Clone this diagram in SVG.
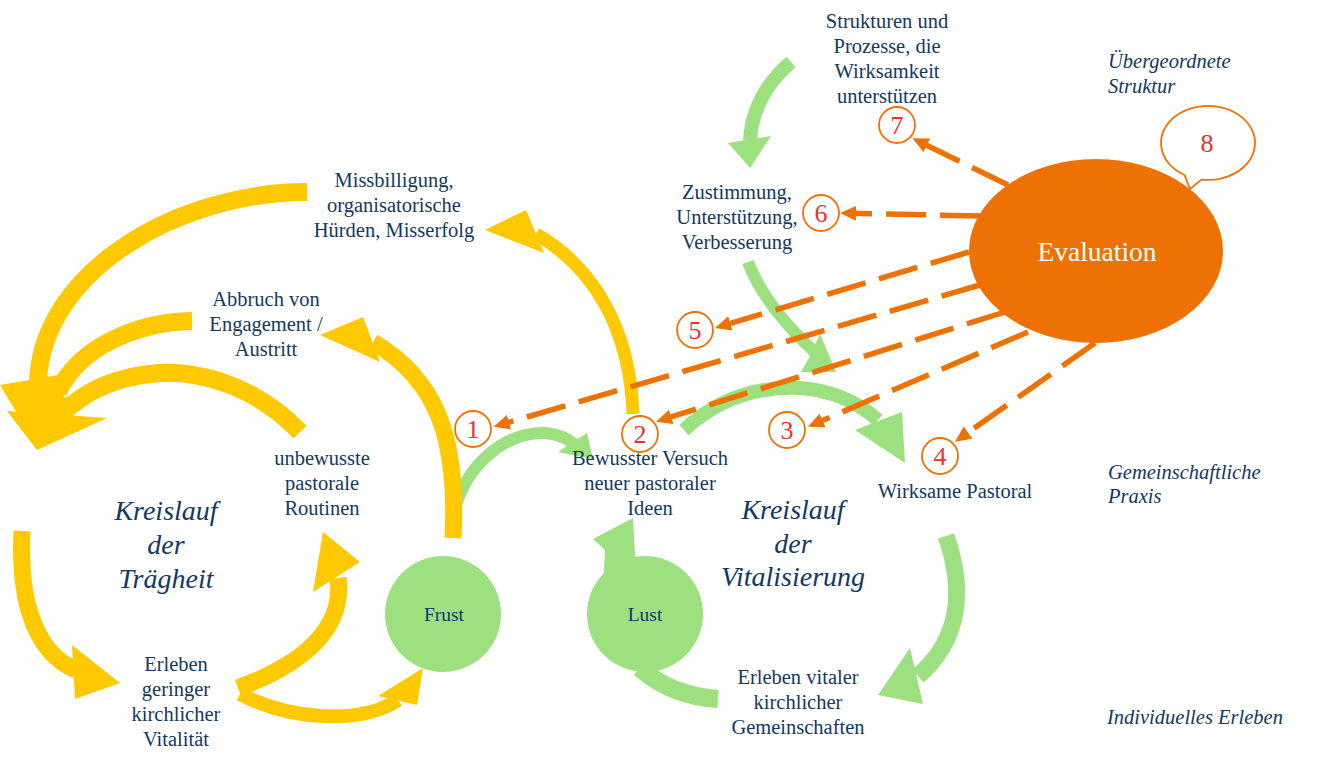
<svg xmlns="http://www.w3.org/2000/svg" width="1328" height="764" viewBox="0 0 1328 764">
<style>
.t{font-family:"Liberation Serif","Times New Roman",serif;font-size:20.5px;fill:#12395F;text-anchor:middle}
.ti{font-style:italic;text-anchor:start}
.k{font-size:28px;font-style:italic}
.num{font-family:"Liberation Serif","Times New Roman",serif;font-size:26px;fill:#E8322E;text-anchor:middle}
.ny{fill:none;stroke:#FFC900}
.ng{fill:none;stroke:#9DE07F}
.hy{fill:#FFC900}
.hg{fill:#9DE07F}
.dash{fill:none;stroke:#EE7203;stroke-width:5.5;stroke-dasharray:40 14;marker-end:url(#ah)}
.nc{fill:#fff;stroke:#EE7203;stroke-width:1.8}
</style>
<defs>
<marker id="ah" markerUnits="userSpaceOnUse" markerWidth="16" markerHeight="15" refX="6" refY="7.5" orient="auto">
<path d="M0,0 L16,7.5 L0,15 Z" fill="#EE7203"/>
</marker>
</defs>
<rect width="1328" height="764" fill="#fff"/>

<g id="connectors">
<!-- green arrows -->
<g id="g-strukturen-zustimmung">
<path class="ng" stroke-width="14" d="M791,62 C770,80 752,105 750,141"/>
<polygon class="hg" points="728,143 771,136 750,168"/>
</g>
<g id="g-zustimmung-wirksame">
<path class="ng" stroke-width="12" d="M748,262 C760,295 790,330 815,352"/>
<polygon class="hg" points="820,334 836,372 801,372 809,358"/>
</g>
<g id="g-bewusst-wirksame">
<path class="ng" stroke-width="14" d="M684,430 C720,397 760,386 800,388 C830,390 855,400 878,420"/>
<polygon class="hg" points="855,430 902,412 905,463"/>
</g>
<g id="g-wirksame-erleben">
<path class="ng" stroke-width="17" d="M946,536 C965,590 960,640 918,676"/>
<polygon class="hg" points="910,648 923,704 878,695"/>
</g>
<g id="g-erleben-lust-bewusst">
<path class="ng" stroke-width="18" d="M718,699 C690,697 662,688 640,668"/>
<polygon class="hg" points="593,539 633,518 637,590 603,590 605,550"/>
</g>
<g id="g-frust-bewusst">
<path class="ng" stroke-width="12" d="M452,522 C462,465 505,432 545,433 C560,434 570,440 578,447"/>
<polygon class="hg" points="558,452 587,433 593,459"/>
</g>

<!-- yellow arrows -->
<g id="y-miss-inert">
<path class="ny" stroke-width="18" d="M307,192 C180,192 42,270 38,382"/>
<polygon class="hy" points="0,385 76,372 38,448"/>
</g>
<g id="y-abbruch-inert">
<path class="ny" stroke-width="18" d="M192,321 C140,322 80,345 58,392"/>
<polygon class="hy" points="14,396 92,398 38,448"/>
</g>
<g id="y-routinen-inert">
<path class="ny" stroke-width="18" d="M300,432 C255,385 195,368 150,374 C115,378 90,390 72,405"/>
<polygon class="hy" points="7,411 107,418 37,450"/>
</g>
<g id="y-inert-erleben">
<path class="ny" stroke-width="17" d="M22,531 C18,610 40,655 76,670"/>
<polygon class="hy" points="72,645 120,683 75,699"/>
</g>
<g id="y-erleben-routinen">
<path class="ny" stroke-width="17" d="M238,688 C300,665 345,630 338,578"/>
<polygon class="hy" points="323,532 360,562 313,592"/>
</g>
<g id="y-erleben-frust">
<path class="ny" stroke-width="14" d="M240,694 C290,720 360,725 398,700"/>
<polygon class="hy" points="378,696 423,668 417,705"/>
</g>
<g id="y-frust-abbruch">
<path class="ny" stroke-width="17" d="M453,538 C458,440 438,380 373,342"/>
<polygon class="hy" points="320,335 363,317 380,362"/>
</g>
<g id="y-bewusst-miss">
<path class="ny" stroke-width="13" d="M633,414 C630,330 595,268 536,234"/>
<polygon class="hy" points="485,230 526,210 544,253"/>
</g>
</g>

<g id="node-frust">
<circle cx="443" cy="614" r="58" fill="#9DE07F"/>
<text class="t" x="444" y="621" style="font-size:19.5px">Frust</text>
</g>
<g id="node-lust">
<circle cx="645" cy="614" r="58" fill="#9DE07F"/>
<text class="t" x="645" y="621" style="font-size:19.5px">Lust</text>
</g>

<g id="node-strukturen">
<text class="t"><tspan x="887" y="28">Strukturen und</tspan><tspan x="887" y="53">Prozesse, die</tspan><tspan x="887" y="78">Wirksamkeit</tspan><tspan x="887" y="103">unterstützen</tspan></text>
</g>
<g id="label-uebergeordnet">
<text class="t ti"><tspan x="1108" y="68">Übergeordnete</tspan><tspan x="1108" y="93">Struktur</tspan></text>
</g>
<g id="node-missbilligung">
<text class="t"><tspan x="394" y="187">Missbilligung,</tspan><tspan x="394" y="212">organisatorische</tspan><tspan x="394" y="237">Hürden, Misserfolg</tspan></text>
</g>
<g id="node-zustimmung">
<text class="t"><tspan x="737" y="199">Zustimmung,</tspan><tspan x="737" y="224">Unterstützung,</tspan><tspan x="737" y="249">Verbesserung</tspan></text>
</g>
<g id="node-abbruch">
<text class="t"><tspan x="266" y="306">Abbruch von</tspan><tspan x="266" y="331">Engagement /</tspan><tspan x="266" y="356">Austritt</tspan></text>
</g>
<g id="node-routinen">
<text class="t"><tspan x="322" y="465">unbewusste</tspan><tspan x="322" y="490">pastorale</tspan><tspan x="322" y="515">Routinen</tspan></text>
</g>
<g id="node-bewusst">
<text class="t"><tspan x="650" y="465">Bewusster Versuch</tspan><tspan x="650" y="490">neuer pastoraler</tspan><tspan x="650" y="515">Ideen</tspan></text>
</g>
<g id="node-wirksam">
<text class="t" x="955" y="498">Wirksame Pastoral</text>
</g>
<g id="label-gemeinschaft">
<text class="t ti"><tspan x="1108" y="479">Gemeinschaftliche</tspan><tspan x="1108" y="503">Praxis</tspan></text>
</g>
<g id="label-traegheit">
<text class="t k"><tspan x="166" y="520">Kreislauf</tspan><tspan x="166" y="554">der</tspan><tspan x="166" y="588">Trägheit</tspan></text>
</g>
<g id="label-vitalisierung">
<text class="t k"><tspan x="793" y="519">Kreislauf</tspan><tspan x="793" y="553">der</tspan><tspan x="793" y="586">Vitalisierung</tspan></text>
</g>
<g id="node-erleben-gering">
<text class="t"><tspan x="176" y="671">Erleben</tspan><tspan x="176" y="696">geringer</tspan><tspan x="176" y="721">kirchlicher</tspan><tspan x="176" y="746">Vitalität</tspan></text>
</g>
<g id="node-erleben-vital">
<text class="t"><tspan x="798" y="684">Erleben vitaler</tspan><tspan x="798" y="709">kirchlicher</tspan><tspan x="798" y="734">Gemeinschaften</tspan></text>
</g>
<g id="label-individuell">
<text class="t ti" x="1107" y="724">Individuelles Erleben</text>
</g>

<g id="evaluation-links">
<path class="dash" d="M1008,185 L921.4,142.7"/>
<path class="dash" d="M980,216 L850,213.2"/>
<path class="dash" d="M969,252 L724.6,325.1"/>
<path class="dash" d="M980,285 L503.2,423.9"/>
<path class="dash" d="M1005,312 L665.5,418.7"/>
<path class="dash" d="M1028,332 L817.1,422.8"/>
<path class="dash" d="M1095,343 L963.2,436"/>
</g>

<g id="node-evaluation">
<ellipse cx="1096" cy="251" rx="127" ry="92" fill="#EE7203"/>
<text class="t" x="1097" y="261" style="font-size:27.5px;fill:#fff">Evaluation</text>
</g>
<g id="node-8">
<path class="nc" d="M1184.5,175 A47,37 0 1 1 1201.5,179.6 L1190,189 Z"/>
<text class="num" x="1207" y="152">8</text>
</g>
<g id="node-1"><circle class="nc" cx="473" cy="429" r="18"/><text class="num" x="473" y="438">1</text></g>
<g id="node-2"><circle class="nc" cx="640" cy="434" r="18"/><text class="num" x="640" y="443">2</text></g>
<g id="node-3"><circle class="nc" cx="787" cy="430" r="18"/><text class="num" x="787" y="439">3</text></g>
<g id="node-4"><circle class="nc" cx="940" cy="456" r="18"/><text class="num" x="940" y="465">4</text></g>
<g id="node-5"><circle class="nc" cx="695" cy="330" r="18"/><text class="num" x="695" y="339">5</text></g>
<g id="node-6"><circle class="nc" cx="821" cy="213" r="18"/><text class="num" x="821" y="222">6</text></g>
<g id="node-7"><circle class="nc" cx="897" cy="125" r="18"/><text class="num" x="897" y="134">7</text></g>
</svg>
